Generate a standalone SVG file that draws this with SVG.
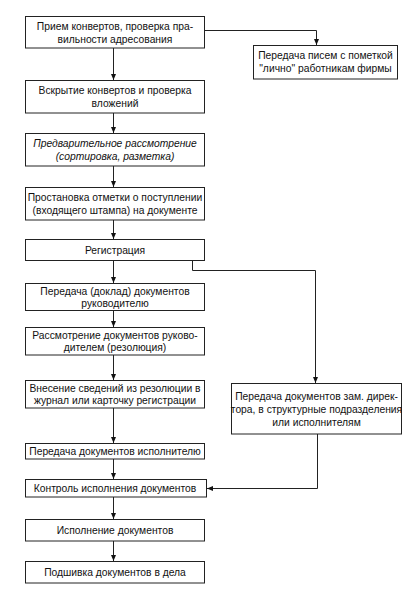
<svg xmlns="http://www.w3.org/2000/svg" width="414" height="593" viewBox="0 0 414 593">
<defs>
<marker id="ah" markerWidth="6" markerHeight="5" refX="6" refY="2.5" orient="auto" markerUnits="userSpaceOnUse">
<path d="M0,0 L6,2.5 L0,5 Z" fill="#111"/>
</marker>
<style>
.box{fill:#fff;stroke:#222;stroke-width:1}
.t{font-family:"Liberation Sans",Arial,sans-serif;font-size:10.3px;fill:#111;text-anchor:middle}
.i{font-style:italic}
.c{fill:none;stroke:#222;stroke-width:1;marker-end:url(#ah)}
</style>
</defs>
<rect width="414" height="593" fill="#fff"/>
<g id="connectors">
<path class="c" d="M205,30.5 H316.5 V45"/>
<path class="c" d="M113.5,48 V80"/>
<path class="c" d="M113.5,113 V133"/>
<path class="c" d="M113.5,166 V187"/>
<path class="c" d="M113.5,220 V239"/>
<path class="c" d="M113.5,260 V283"/>
<path class="c" d="M113.5,310 V327"/>
<path class="c" d="M113.5,355 V380"/>
<path class="c" d="M113.5,408 V443"/>
<path class="c" d="M113.5,459 V479"/>
<path class="c" d="M113.5,497 V519"/>
<path class="c" d="M113.5,541 V561"/>
<path class="c" d="M192.5,260 V270.5 H315.5 V383"/>
<path class="c" d="M317.5,434 V488.5 H207"/>
</g>
<g id="n1"><rect class="box" x="25.5" y="16.5" width="179" height="31.5"/>
<text class="t" x="115" y="29.5">Прием конвертов, проверка пра-</text>
<text class="t" x="115" y="42.5">вильности адресования</text></g>
<g id="n2"><rect class="box" x="25.5" y="80.5" width="179" height="32.5"/>
<text class="t" x="115" y="94">Вскрытие конвертов и проверка</text>
<text class="t" x="115" y="107">вложений</text></g>
<g id="n3"><rect class="box" x="25.5" y="133.5" width="179" height="32.5"/>
<text class="t i" x="115" y="147">Предварительное рассмотрение</text>
<text class="t i" x="115" y="160">(сортировка, разметка)</text></g>
<g id="n4"><rect class="box" x="25.5" y="187.5" width="179" height="32.5"/>
<text class="t" x="115" y="201">Простановка отметки о поступлении</text>
<text class="t" x="115" y="214">(входящего штампа) на документе</text></g>
<g id="n5"><rect class="box" x="25.5" y="239.5" width="179" height="21"/>
<text class="t" x="115" y="254">Регистрация</text></g>
<g id="n6"><rect class="box" x="25.5" y="283.5" width="179" height="27"/>
<text class="t" x="115" y="294.5">Передача (доклад) документов</text>
<text class="t" x="115" y="306.5">руководителю</text></g>
<g id="n7"><rect class="box" x="25.5" y="327.5" width="179" height="27.5"/>
<text class="t" x="115" y="339">Рассмотрение документов руково-</text>
<text class="t" x="115" y="351">дителем (резолюция)</text></g>
<g id="n8"><rect class="box" x="25.5" y="380.5" width="179" height="27.5"/>
<text class="t" x="115" y="392">Внесение сведений из резолюции в</text>
<text class="t" x="115" y="404">журнал или карточку регистрации</text></g>
<g id="n9"><rect class="box" x="25.5" y="443.5" width="179" height="15.5"/>
<text class="t" x="115" y="455">Передача документов исполнителю</text></g>
<g id="n10"><rect class="box" x="25.5" y="479.5" width="181" height="17.5"/>
<text class="t" x="115" y="492">Контроль исполнения документов</text></g>
<g id="n11"><rect class="box" x="25.5" y="519.5" width="179" height="21.5"/>
<text class="t" x="115" y="534">Исполнение документов</text></g>
<g id="n12"><rect class="box" x="25.5" y="561.5" width="179" height="21.5"/>
<text class="t" x="115" y="576">Подшивка документов в дела</text></g>
<g id="r1"><rect class="box" x="253.5" y="45.5" width="144" height="33.5"/>
<text class="t" x="325.5" y="59">Передача писем с пометкой</text>
<text class="t" x="325.5" y="72">"лично" работникам фирмы</text></g>
<g id="r2"><rect class="box" x="231.5" y="383.5" width="170" height="50.5"/>
<text class="t" x="316.5" y="400">Передача документов зам. дирек-</text>
<text class="t" x="316.5" y="413">тора, в структурные подразделения</text>
<text class="t" x="316.5" y="426">или исполнителям</text></g>
</svg>
